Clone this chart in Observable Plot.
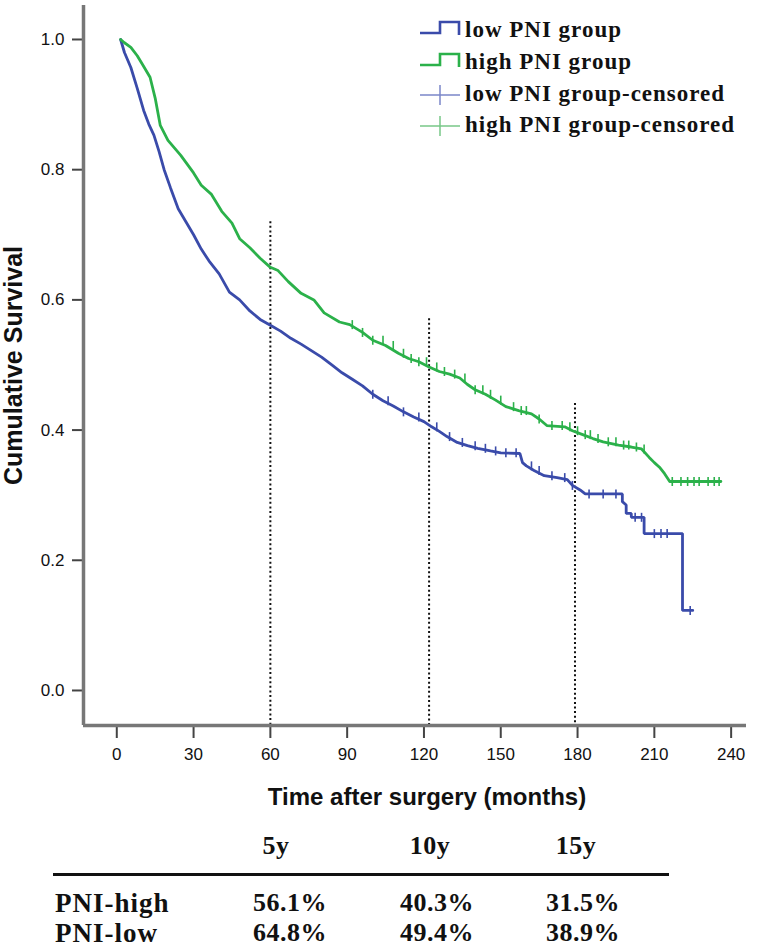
<!DOCTYPE html>
<html><head><meta charset="utf-8">
<script src="https://cdn.jsdelivr.net/npm/d3@7"></script>
<script src="https://cdn.jsdelivr.net/npm/@observablehq/plot@0.6"></script>
<style>
body{margin:0;background:#fff;}
#wrap{position:relative;width:767px;height:947px;overflow:hidden;background:#fff;}
#wrap svg{display:block;}
.lg{position:absolute;left:465px;font-family:"Liberation Serif","Times New Roman",serif;font-weight:bold;font-size:23px;letter-spacing:1px;line-height:1;transform:translateY(-55%);color:#111;white-space:nowrap;}
.tb{position:absolute;font-family:"Liberation Serif","Times New Roman",serif;font-weight:bold;font-size:26px;letter-spacing:0.5px;line-height:1;color:#111;white-space:nowrap;transform:translate(-50%,-50%);}
.tbl{transform:translate(0,-50%);font-size:27px;letter-spacing:1px;}
</style></head><body><div id="wrap"></div>
<script>
// ---- data ----
const xTicks = [0, 30, 60, 90, 120, 150, 180, 210, 240];
const yTicks = [0.0, 0.2, 0.4, 0.6, 0.8, 1.0];

// high PNI group (green): months and cumulative survival
const highMonths = [1.5, 3, 5.5, 8, 10, 13, 15, 17, 20, 25, 30, 33, 37, 41, 45, 48, 52, 56, 60, 63, 67, 72, 77, 81, 87, 91, 96, 100, 105, 110, 114, 118, 122, 126, 130, 134, 137, 140, 144, 148, 152, 157, 162, 165, 168, 175, 178, 182, 186, 190, 196, 201, 205, 208, 210, 212, 214, 216, 236];
const highSurv   = [1.0, 0.995, 0.988, 0.975, 0.962, 0.942, 0.91, 0.868, 0.845, 0.822, 0.795, 0.776, 0.762, 0.736, 0.718, 0.694, 0.68, 0.664, 0.65, 0.645, 0.628, 0.61, 0.6, 0.58, 0.566, 0.562, 0.55, 0.538, 0.53, 0.518, 0.51, 0.505, 0.497, 0.49, 0.486, 0.48, 0.47, 0.462, 0.455, 0.446, 0.436, 0.43, 0.425, 0.417, 0.407, 0.405, 0.399, 0.393, 0.387, 0.382, 0.377, 0.374, 0.371, 0.358, 0.35, 0.343, 0.333, 0.321, 0.321];

// low PNI group (blue): months and cumulative survival (repeated month = vertical drop)
const lowMonths = [1.5, 3, 5.5, 8, 10.5, 12.5, 14.5, 16.5, 18.5, 21, 24, 27, 30, 33, 36, 40, 44, 48, 52, 56, 60, 64, 68, 72, 76, 80, 84, 88, 92, 96, 100, 104, 108, 112, 116, 120, 123, 126, 129, 133, 137, 141, 146, 150, 157.5, 158.5, 160, 163, 167, 172, 176, 178, 181, 183, 197.5, 197.5, 199, 199, 201, 201, 206, 206, 221, 221, 225];
const lowSurv   = [1.0, 0.98, 0.957, 0.925, 0.891, 0.87, 0.853, 0.828, 0.8, 0.772, 0.74, 0.72, 0.7, 0.678, 0.66, 0.64, 0.612, 0.6, 0.583, 0.57, 0.561, 0.552, 0.541, 0.532, 0.522, 0.512, 0.5, 0.488, 0.478, 0.468, 0.455, 0.445, 0.437, 0.428, 0.42, 0.413, 0.405, 0.398, 0.39, 0.381, 0.376, 0.372, 0.368, 0.365, 0.364, 0.35, 0.345, 0.338, 0.33, 0.327, 0.324, 0.315, 0.308, 0.302, 0.302, 0.29, 0.285, 0.272, 0.272, 0.266, 0.266, 0.241, 0.241, 0.123, 0.123];

// censoring times
const highCensored = [92, 96, 100, 104, 108, 112, 115, 118, 121, 125, 128, 132, 136, 140, 143, 146, 150, 155, 158, 160, 165, 170, 174, 177, 180, 183, 185, 188, 192, 195, 198, 200, 203, 206, 217, 220.4, 223, 225.5, 227.5, 231, 233.4, 235.3];
const lowCensored  = [100, 106, 112, 118, 125, 130, 135, 140, 144, 148, 152, 156, 162, 165, 170, 175, 178, 184.5, 190, 195, 202.5, 205, 210, 212.6, 215, 224];

// dotted reference lines (5y, 10y, 15y)
const refMonths = [60, 122, 179];
const refTops   = [0.72, 0.571, 0.441];

const legendLabels = ["low PNI group", "high PNI group", "low PNI group-censored", "high PNI group-censored"];
const tableCols = ["5y", "10y", "15y"];
const tableRows = ["PNI-high", "PNI-low"];
const pniHighVals = ["56.1%", "40.3%", "31.5%"];
const pniLowVals  = ["64.8%", "49.4%", "38.9%"];

// ---- build ----
const blue = "#3a4baa", green = "#2bb14a";
const toRows = (ms, ss) => ms.map((m, i) => ({month: m, surv: ss[i]}));
const highData = toRows(highMonths, highSurv);
const lowData = toRows(lowMonths, lowSurv);
const survAt = (ms, ss, t) => ss[Math.max(0, d3.bisectRight(ms, t) - 1)];
const highCens = highCensored.map(t => ({month: t, surv: survAt(highMonths, highSurv, t)}));
const lowCens = lowCensored.map(t => ({month: t, surv: survAt(lowMonths, lowSurv, t)}));
const refs = refMonths.map((m, i) => ({month: m, top: refTops[i]}));

const W = 767, H = 812;
const xDom = [-13, 246], yDom = [-0.0538, 1.0522];
const tickSym = {draw(ctx, size) { const r = Math.sqrt(size / Math.PI); ctx.moveTo(0, -r); ctx.lineTo(0, r); }};

const chart = Plot.plot({
  width: W, height: H,
  marginLeft: 83, marginRight: 21, marginTop: 5, marginBottom: H - 725,
  x: {domain: xDom},
  y: {domain: yDom},
  style: {fontFamily: "'Liberation Sans', Arial, sans-serif", background: "#fff", color: "#111"},
  marks: [
    Plot.axisY(yTicks, {tickSize: 11, tickPadding: 8, tickFormat: d3.format(".1f"), fontSize: 17, stroke: "#444", strokeWidth: 2, label: null}),
    Plot.axisX(xTicks, {tickSize: 13, tickPadding: 9, fontSize: 17, stroke: "#444", strokeWidth: 2, label: null}),
    Plot.ruleX(refs, {x: "month", y1: "top", y2: yDom[0], stroke: "#111", strokeWidth: 2, strokeDasharray: "2,2.6"}),
    Plot.line(lowData, {x: "month", y: "surv", stroke: blue, strokeWidth: 2.8, strokeLinejoin: "miter"}),
    Plot.line(highData, {x: "month", y: "surv", stroke: green, strokeWidth: 2.8}),
    Plot.dot(lowCens, {x: "month", y: "surv", symbol: tickSym, r: 4.5, stroke: blue, strokeWidth: 1.6}),
    Plot.dot(highCens, {x: "month", y: "surv", symbol: tickSym, r: 4.5, stroke: green, strokeWidth: 1.6}),
    Plot.ruleX([xDom[0]], {stroke: "#777", strokeWidth: 3.5}),
    Plot.ruleY([yDom[0]], {stroke: "#777", strokeWidth: 3.5}),
    Plot.text(["Cumulative Survival"], {frameAnchor: "left", textAnchor: "middle", lineAnchor: "middle", rotate: -90, dx: -70, fontSize: 25, fontWeight: "bold"}),
    Plot.text(["Time after surgery (months)"], {frameAnchor: "bottom", lineAnchor: "middle", dy: 72, dx: 12, fontSize: 24, fontWeight: "bold"})
  ]
});
const wrap = document.getElementById("wrap");
wrap.appendChild(chart);

// legend
const legRowY = [31, 63, 95, 126];
const legColors = [blue, green, "#7b87c9", "#78c888"];
legendLabels.forEach((lab, i) => {
  const cy = legRowY[i];
  const s = document.createElementNS("http://www.w3.org/2000/svg", "svg");
  s.setAttribute("width", 44); s.setAttribute("height", 26);
  s.style.position = "absolute"; s.style.left = "418px"; s.style.top = (cy - 13) + "px";
  const p = document.createElementNS("http://www.w3.org/2000/svg", "path");
  if (i < 2) {
    p.setAttribute("d", "M2,15 H22 V4 H41 V17");
    p.setAttribute("stroke-width", 2.6);
  } else {
    p.setAttribute("d", "M2,13 H42 M22,3 V23");
    p.setAttribute("stroke-width", 1.5);
  }
  p.setAttribute("stroke", legColors[i]); p.setAttribute("fill", "none");
  s.appendChild(p); wrap.appendChild(s);
  const t = document.createElement("div");
  t.className = "lg"; t.style.top = cy + "px"; t.textContent = lab;
  wrap.appendChild(t);
});

// table
const colX = [276, 430, 576], valX = [290, 437, 583];
tableCols.forEach((c, i) => {
  const d = document.createElement("div"); d.className = "tb"; d.textContent = c;
  d.style.left = colX[i] + "px"; d.style.top = "846px"; wrap.appendChild(d);
});
const line = document.createElement("div");
Object.assign(line.style, {position: "absolute", left: "53px", top: "873px", width: "616px", height: "2.5px", background: "#111"});
wrap.appendChild(line);
[[tableRows[0], pniHighVals, 903], [tableRows[1], pniLowVals, 933]].forEach(([lab, vals, y]) => {
  const l = document.createElement("div"); l.className = "tb tbl"; l.textContent = lab;
  l.style.left = "55px"; l.style.top = y + "px"; wrap.appendChild(l);
  vals.forEach((v, i) => {
    const d = document.createElement("div"); d.className = "tb"; d.textContent = v;
    d.style.left = valX[i] + "px"; d.style.top = y + "px"; wrap.appendChild(d);
  });
});
</script></body></html>
